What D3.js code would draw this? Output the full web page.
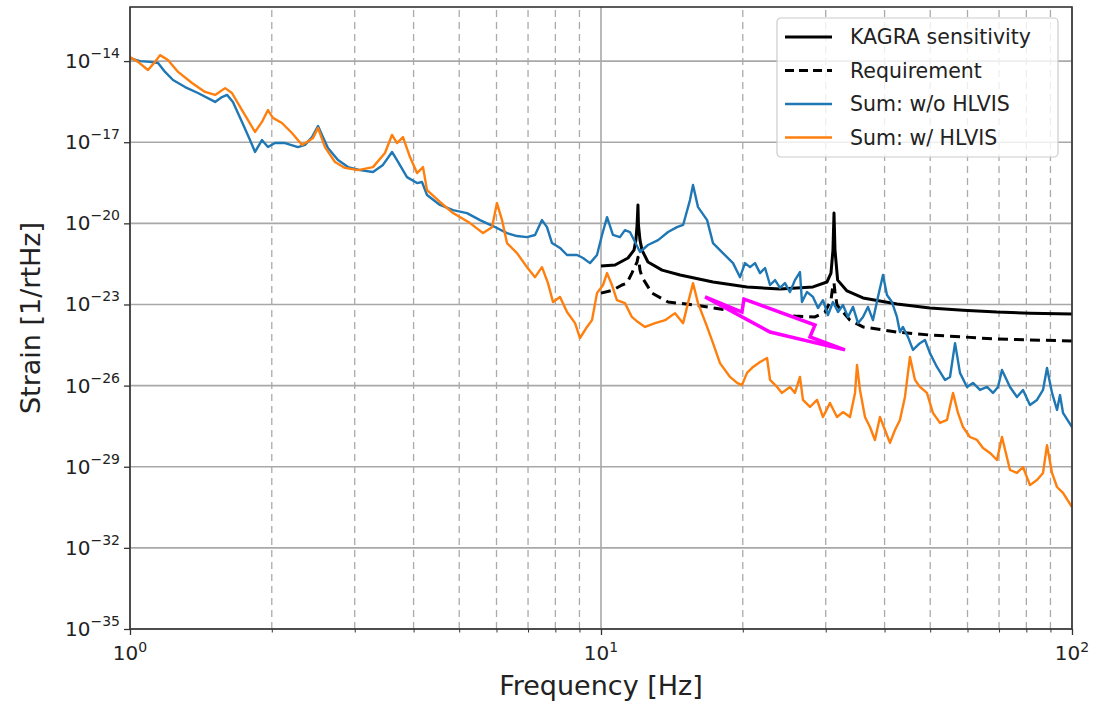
<!DOCTYPE html>
<html>
<head>
<meta charset="utf-8">
<script src="https://cdn.jsdelivr.net/npm/d3@7"></script>
<style>
  body { margin: 0; background: #fff; }
  text { font-family: "DejaVu Sans", sans-serif; fill: #222; }
</style>
</head>
<body>
<div id="chart"></div>
<script>
// values: frequency [Hz] and log10(strain)
const blueFreq = [1.000,1.050,1.103,1.147,1.187,1.234,1.309,1.394,1.516,1.568,
  1.607,1.654,1.729,1.798,1.843,1.906,1.963,2.031,2.134,2.273,
  2.353,2.435,2.507,2.568,2.632,2.764,2.903,3.078,3.280,3.444,
  3.600,3.689,3.873,4.068,4.168,4.272,4.551,4.851,5.194,5.535,
  5.898,6.316,6.632,6.964,7.243,7.494,7.679,7.869,8.185,8.470,
  8.894,9.159,9.476,9.806,10.05,10.30,10.60,10.97,11.24,11.52,
  11.81,12.10,12.58,13.22,13.88,14.50,14.94,15.45,15.68,16.07,
  16.80,
  17.29,18.15,19.07,19.73,20.22,20.72,21.23,21.76,22.30,22.85,
  23.42,23.99,24.58,25.19,25.81,26.45,26.71,27.37,28.19,28.89,
  29.60,30.33,31.08,31.86,32.64,33.45,34.28,35.13,36.0,36.88,
  37.79,38.73,39.69,40.47,41.47,42.49,43.12,
  43.76,44.84,45.96,47.55,48.73,49.93,51.67,53.74,55.08,56.45,
  57.83,59.84,61.63,63.78,66.00,67.96,69.64,71.01,73.85,76.42,
  78.70,81.43,84.26,86.79,88.50,90.69,92.94,94.30,95.70,100];
const blueLog = [-13.89,-14.00,-14.03,-14.07,-14.40,-14.70,-14.96,-15.18,-15.51,-15.33,
  -15.25,-15.51,-16.25,-16.92,-17.36,-16.92,-17.18,-17.03,-17.03,-17.18,
  -17.10,-16.81,-16.40,-16.81,-17.21,-17.66,-17.92,-18.03,-18.10,-17.84,
  -17.36,-17.66,-18.29,-18.51,-18.47,-18.95,-19.32,-19.51,-19.62,-19.88,
  -20.10,-20.36,-20.47,-20.51,-20.43,-19.88,-20.14,-20.73,-20.91,-21.17,
  -21.17,-21.28,-21.47,-21.17,-20.43,-19.77,-20.43,-20.51,-20.25,-20.32,
  -20.69,-21.06,-20.80,-20.62,-20.32,-20.14,-20.06,-19.14,-18.58,-19.40,
  -19.88,
  -20.73,-21.10,-21.47,-21.99,-21.47,-21.62,-21.47,-21.84,-21.65,-22.28,
  -22.10,-22.39,-22.21,-22.54,-22.10,-21.80,-22.91,-22.54,-22.72,-23.13,
  -22.84,-23.39,-22.91,-23.28,-23.02,-23.46,-23.09,-23.69,-23.46,-23.09,
  -23.58,-22.72,-21.91,-22.65,-22.91,-23.46,-24.02,
  -23.83,-24.20,-24.68,-24.43,-24.31,-24.80,-25.31,-25.79,-25.68,-24.43,
  -25.53,-26.05,-25.90,-26.16,-26.05,-26.27,-26.05,-25.42,-26.05,-26.42,
  -26.16,-26.72,-26.53,-26.16,-25.35,-26.27,-26.90,-26.35,-27.01,-27.53];

const orangeFreq = [1.000,1.040,1.092,1.130,1.158,1.204,1.265,1.354,1.443,1.516,
  1.592,1.646,1.729,1.843,1.906,1.963,2.011,2.102,2.207,2.319,
  2.376,2.447,2.507,2.594,2.724,2.861,3.049,3.280,3.478,3.600,
  3.689,3.798,3.931,4.068,4.189,4.272,4.551,4.851,5.271,5.617,
  5.869,6.014,6.164,6.316,6.632,6.964,7.243,7.494,7.717,7.908,
  8.185,8.470,8.808,9.025,9.339,9.569,9.806,10.10,10.30,10.55,
  10.81,11.24,11.63,11.98,12.40,13.03,13.68,14.36,14.94,15.30,
  15.68,16.07,
  16.80,17.29,17.89,18.79,19.45,19.92,20.42,21.03,21.76,22.52,
  22.85,23.65,24.22,25.19,25.81,26.45,26.84,27.78,28.75,29.60,
  30.63,31.70,32.64,33.78,34.62,34.96,35.47,36.35,37.24,38.16,
  39.11,40.08,41.07,42.09,43.12,
  44.19,45.29,46.41,47.55,49.20,50.67,52.44,54.27,55.90,57.27,
  58.69,60.73,62.84,64.72,66.97,69.30,71.01,73.85,76.42,78.70,
  81.43,84.26,86.79,88.50,90.69,92.94,95.70,100];
const orangeLog = [-13.85,-14.03,-14.33,-14.03,-13.78,-13.96,-14.40,-14.81,-15.14,-15.25,
  -15.00,-15.18,-15.81,-16.62,-16.25,-15.81,-16.10,-16.29,-16.66,-17.10,
  -16.99,-16.84,-16.47,-17.18,-17.73,-17.95,-18.03,-17.92,-17.40,-16.73,
  -17.03,-16.81,-17.55,-18.14,-17.92,-18.77,-19.21,-19.62,-19.99,-20.36,
  -20.14,-19.25,-19.88,-20.73,-21.10,-21.62,-21.99,-21.62,-22.21,-22.91,
  -22.72,-23.28,-23.69,-24.24,-23.83,-23.58,-22.58,-22.28,-21.84,-22.28,
  -22.84,-22.95,-23.46,-23.65,-23.83,-23.69,-23.58,-23.32,-23.69,-22.95,
  -22.21,-22.95,
  -23.83,-24.43,-25.17,-25.68,-25.90,-25.98,-25.53,-25.31,-25.13,-24.98,
  -25.79,-26.05,-26.27,-26.05,-26.27,-25.68,-26.53,-26.79,-26.53,-27.16,
  -26.64,-27.16,-26.98,-27.16,-26.27,-25.24,-26.16,-27.16,-27.53,-28.01,
  -27.16,-27.64,-28.12,-27.64,-27.27,
  -26.42,-24.94,-25.79,-26.05,-26.27,-27.01,-27.38,-27.27,-26.27,-27.01,
  -27.53,-27.90,-28.01,-28.31,-28.49,-28.75,-27.90,-29.12,-29.23,-29.01,
  -29.68,-29.49,-29.23,-28.20,-29.23,-29.75,-29.97,-30.49];

const kagraFreq = [10.0,10.71,11.41,11.75,11.86,11.93,11.98,12.01,12.10,12.22,
  12.58,13.48,14.72,17.29,20.42,23.99,28.19,30.18,30.78,31.08,
  31.24,31.39,31.8,33.29,36.0,42.49,49.93,58.69,69.30,81.43,100];
const kagraLog = [-21.58,-21.54,-21.28,-20.99,-20.62,-20.06,-19.32,-20.06,-20.62,-20.99,
  -21.43,-21.73,-21.91,-22.17,-22.35,-22.43,-22.35,-22.17,-21.84,-20.99,
  -19.62,-20.99,-22.10,-22.50,-22.76,-22.98,-23.13,-23.21,-23.28,-23.32,-23.35];

const reqFreq = [10.0,10.60,11.08,11.35,11.63,11.81,11.93,11.98,12.04,12.10,
  12.22,12.83,13.88,15.83,18.60,21.97,25.81,28.47,29.89,30.78,
  31.08,31.24,31.39,31.70,33.78,36.0,42.49,49.93,58.69,69.30,81.43,100];
const reqLog = [-22.58,-22.47,-22.28,-22.21,-21.84,-21.58,-21.43,-21.25,-21.43,-21.73,
  -21.99,-22.58,-22.91,-23.02,-23.21,-23.32,-23.43,-23.46,-23.28,-22.84,
  -22.28,-22.21,-22.54,-23.02,-23.58,-23.83,-24.02,-24.13,-24.20,-24.28,-24.31,-24.35];

// hand drawn magenta mark
const annoFreq = [16.63,19.92,20.12,28.47,27.78,32.96,22.85];
const annoLog = [-22.72,-23.28,-22.80,-23.76,-24.20,-24.68,-24.02];

const xTickExp = [0, 1, 2];
const yTickExp = [-14, -17, -20, -23, -26, -29, -32, -35];
const xMinor = [2,3,4,5,6,7,8,9,20,30,40,50,60,70,80,90];

const seriesNames = ["KAGRA sensitivity", "Requirement", "Sum: w/o HLVIS", "Sum: w/ HLVIS"];

const W = 1101;
const H = 703;
const M = { top: 7, right: 29, bottom: 74, left: 130 };

const toRows = (fs, ls) => fs.map((f, i) => ({ f, v: Math.pow(10, ls[i]) }));

const series = [
  { name: seriesNames[0], rows: toRows(kagraFreq, kagraLog), color: "#000", width: 3, dash: null },
  { name: seriesNames[1], rows: toRows(reqFreq, reqLog), color: "#000", width: 3, dash: "10,6" },
  { name: seriesNames[2], rows: toRows(blueFreq, blueLog), color: "#1f77b4", width: 2.4, dash: null },
  { name: seriesNames[3], rows: toRows(orangeFreq, orangeLog), color: "#ff7f0e", width: 2.4, dash: null }
];

const svg = d3.select("#chart").append("svg").attr("width", W).attr("height", H);

const x = d3.scaleLog().domain([1, 100]).range([M.left, W - M.right]);
const y = d3.scaleLog().domain([1e-35, 1e-12]).range([H - M.bottom, M.top]);

const x0 = M.left, x1 = W - M.right, y0 = H - M.bottom, y1 = M.top;

// grid
const grid = svg.append("g");
grid.selectAll("line.minor")
  .data(xMinor)
  .join("line")
  .attr("class", "minor")
  .attr("x1", d => x(d)).attr("x2", d => x(d))
  .attr("y1", y0).attr("y2", y1)
  .attr("stroke", "#aaa")
  .attr("stroke-width", 1.3)
  .attr("stroke-dasharray", "7,5");

grid.selectAll("line.hmaj")
  .data(yTickExp)
  .join("line")
  .attr("class", "hmaj")
  .attr("x1", x0).attr("x2", x1)
  .attr("y1", d => y(Math.pow(10, d))).attr("y2", d => y(Math.pow(10, d)))
  .attr("stroke", "#a8a8a8")
  .attr("stroke-width", 1.6);

grid.selectAll("line.vmaj")
  .data(xTickExp)
  .join("line")
  .attr("class", "vmaj")
  .attr("x1", d => x(Math.pow(10, d))).attr("x2", d => x(Math.pow(10, d)))
  .attr("y1", y0).attr("y2", y1)
  .attr("stroke", "#a8a8a8")
  .attr("stroke-width", 1.6);

// curves
svg.append("clipPath").attr("id", "clip")
  .append("rect").attr("x", x0).attr("y", y1).attr("width", x1 - x0).attr("height", y0 - y1);

const line = d3.line().x(d => x(d.f)).y(d => y(d.v));

svg.append("g").attr("clip-path", "url(#clip)")
  .selectAll("path")
  .data(series)
  .join("path")
  .attr("d", d => line(d.rows))
  .attr("fill", "none")
  .attr("stroke", d => d.color)
  .attr("stroke-width", d => d.width)
  .attr("stroke-dasharray", d => d.dash)
  .attr("stroke-linejoin", "round");

// magenta mark
const anno = toRows(annoFreq, annoLog);
svg.append("path")
  .attr("d", line(anno) + "Z")
  .attr("fill", "#fff")
  .attr("stroke", "#ff00ff")
  .attr("stroke-width", 3.5)
  .attr("stroke-linejoin", "miter");

// axes (tick marks only)
svg.append("g")
  .attr("transform", `translate(0,${y0})`)
  .call(d3.axisBottom(x).tickValues(xTickExp.map(e => Math.pow(10, e))).tickSize(6).tickFormat(""))
  .call(g => g.select(".domain").remove())
  .call(g => g.selectAll("line").attr("stroke", "#333").attr("stroke-width", 1.3));

svg.append("g")
  .attr("transform", `translate(0,${y0})`)
  .call(d3.axisBottom(x).tickValues(xMinor).tickSize(3.5).tickFormat(""))
  .call(g => g.select(".domain").remove())
  .call(g => g.selectAll("line").attr("stroke", "#333").attr("stroke-width", 1));

svg.append("g")
  .attr("transform", `translate(${x0},0)`)
  .call(d3.axisLeft(y).tickValues(yTickExp.map(e => Math.pow(10, e))).tickSize(6).tickFormat(""))
  .call(g => g.select(".domain").remove())
  .call(g => g.selectAll("line").attr("stroke", "#333").attr("stroke-width", 1.3));

// frame
svg.append("rect")
  .attr("x", x0).attr("y", y1)
  .attr("width", x1 - x0).attr("height", y0 - y1)
  .attr("fill", "none")
  .attr("stroke", "#333")
  .attr("stroke-width", 1.6);

// tick labels: 10^n
function powLabel(t, e, big, small, raise) {
  t.append("tspan").attr("font-size", big).text("10");
  t.append("tspan").attr("font-size", small).attr("dy", -raise)
    .text(e < 0 ? "\u2212" + (-e) : String(e));
}

svg.append("g").selectAll("text")
  .data(yTickExp)
  .join("text")
  .attr("x", x0 - 10)
  .attr("y", d => y(Math.pow(10, d)) + 7)
  .attr("text-anchor", "end")
  .each(function(d) { powLabel(d3.select(this), d, 20, 14, 10); });

svg.append("g").selectAll("text")
  .data(xTickExp)
  .join("text")
  .attr("x", d => x(Math.pow(10, d)))
  .attr("y", y0 + 31)
  .attr("text-anchor", "middle")
  .each(function(d) { powLabel(d3.select(this), d, 20, 14, 8); });

// axis titles
svg.append("text")
  .attr("x", (x0 + x1) / 2)
  .attr("y", 695)
  .attr("text-anchor", "middle")
  .attr("font-size", 27)
  .text("Frequency [Hz]");

svg.append("text")
  .attr("transform", `translate(40,${(y0 + y1) / 2}) rotate(-90)`)
  .attr("text-anchor", "middle")
  .attr("font-size", 27)
  .text("Strain [1/rtHz]");

// legend
const legend = svg.append("g").attr("transform", "translate(777,18)");
legend.append("rect")
  .attr("width", 281).attr("height", 139)
  .attr("rx", 4)
  .attr("fill", "#fff").attr("fill-opacity", 0.8)
  .attr("stroke", "#ccc").attr("stroke-width", 1.2);

const items = legend.selectAll("g.item")
  .data(series)
  .join("g")
  .attr("class", "item")
  .attr("transform", (d, i) => `translate(0,${19 + i * 33.5})`);

items.append("line")
  .attr("x1", 8).attr("x2", 55)
  .attr("stroke", d => d.color)
  .attr("stroke-width", d => d.width + 0.2)
  .attr("stroke-dasharray", d => d.dash ? "9,5" : null);

items.append("text")
  .attr("x", 73)
  .attr("dy", "0.36em")
  .attr("font-size", 20.5)
  .text(d => d.name);
</script>
</body>
</html>
